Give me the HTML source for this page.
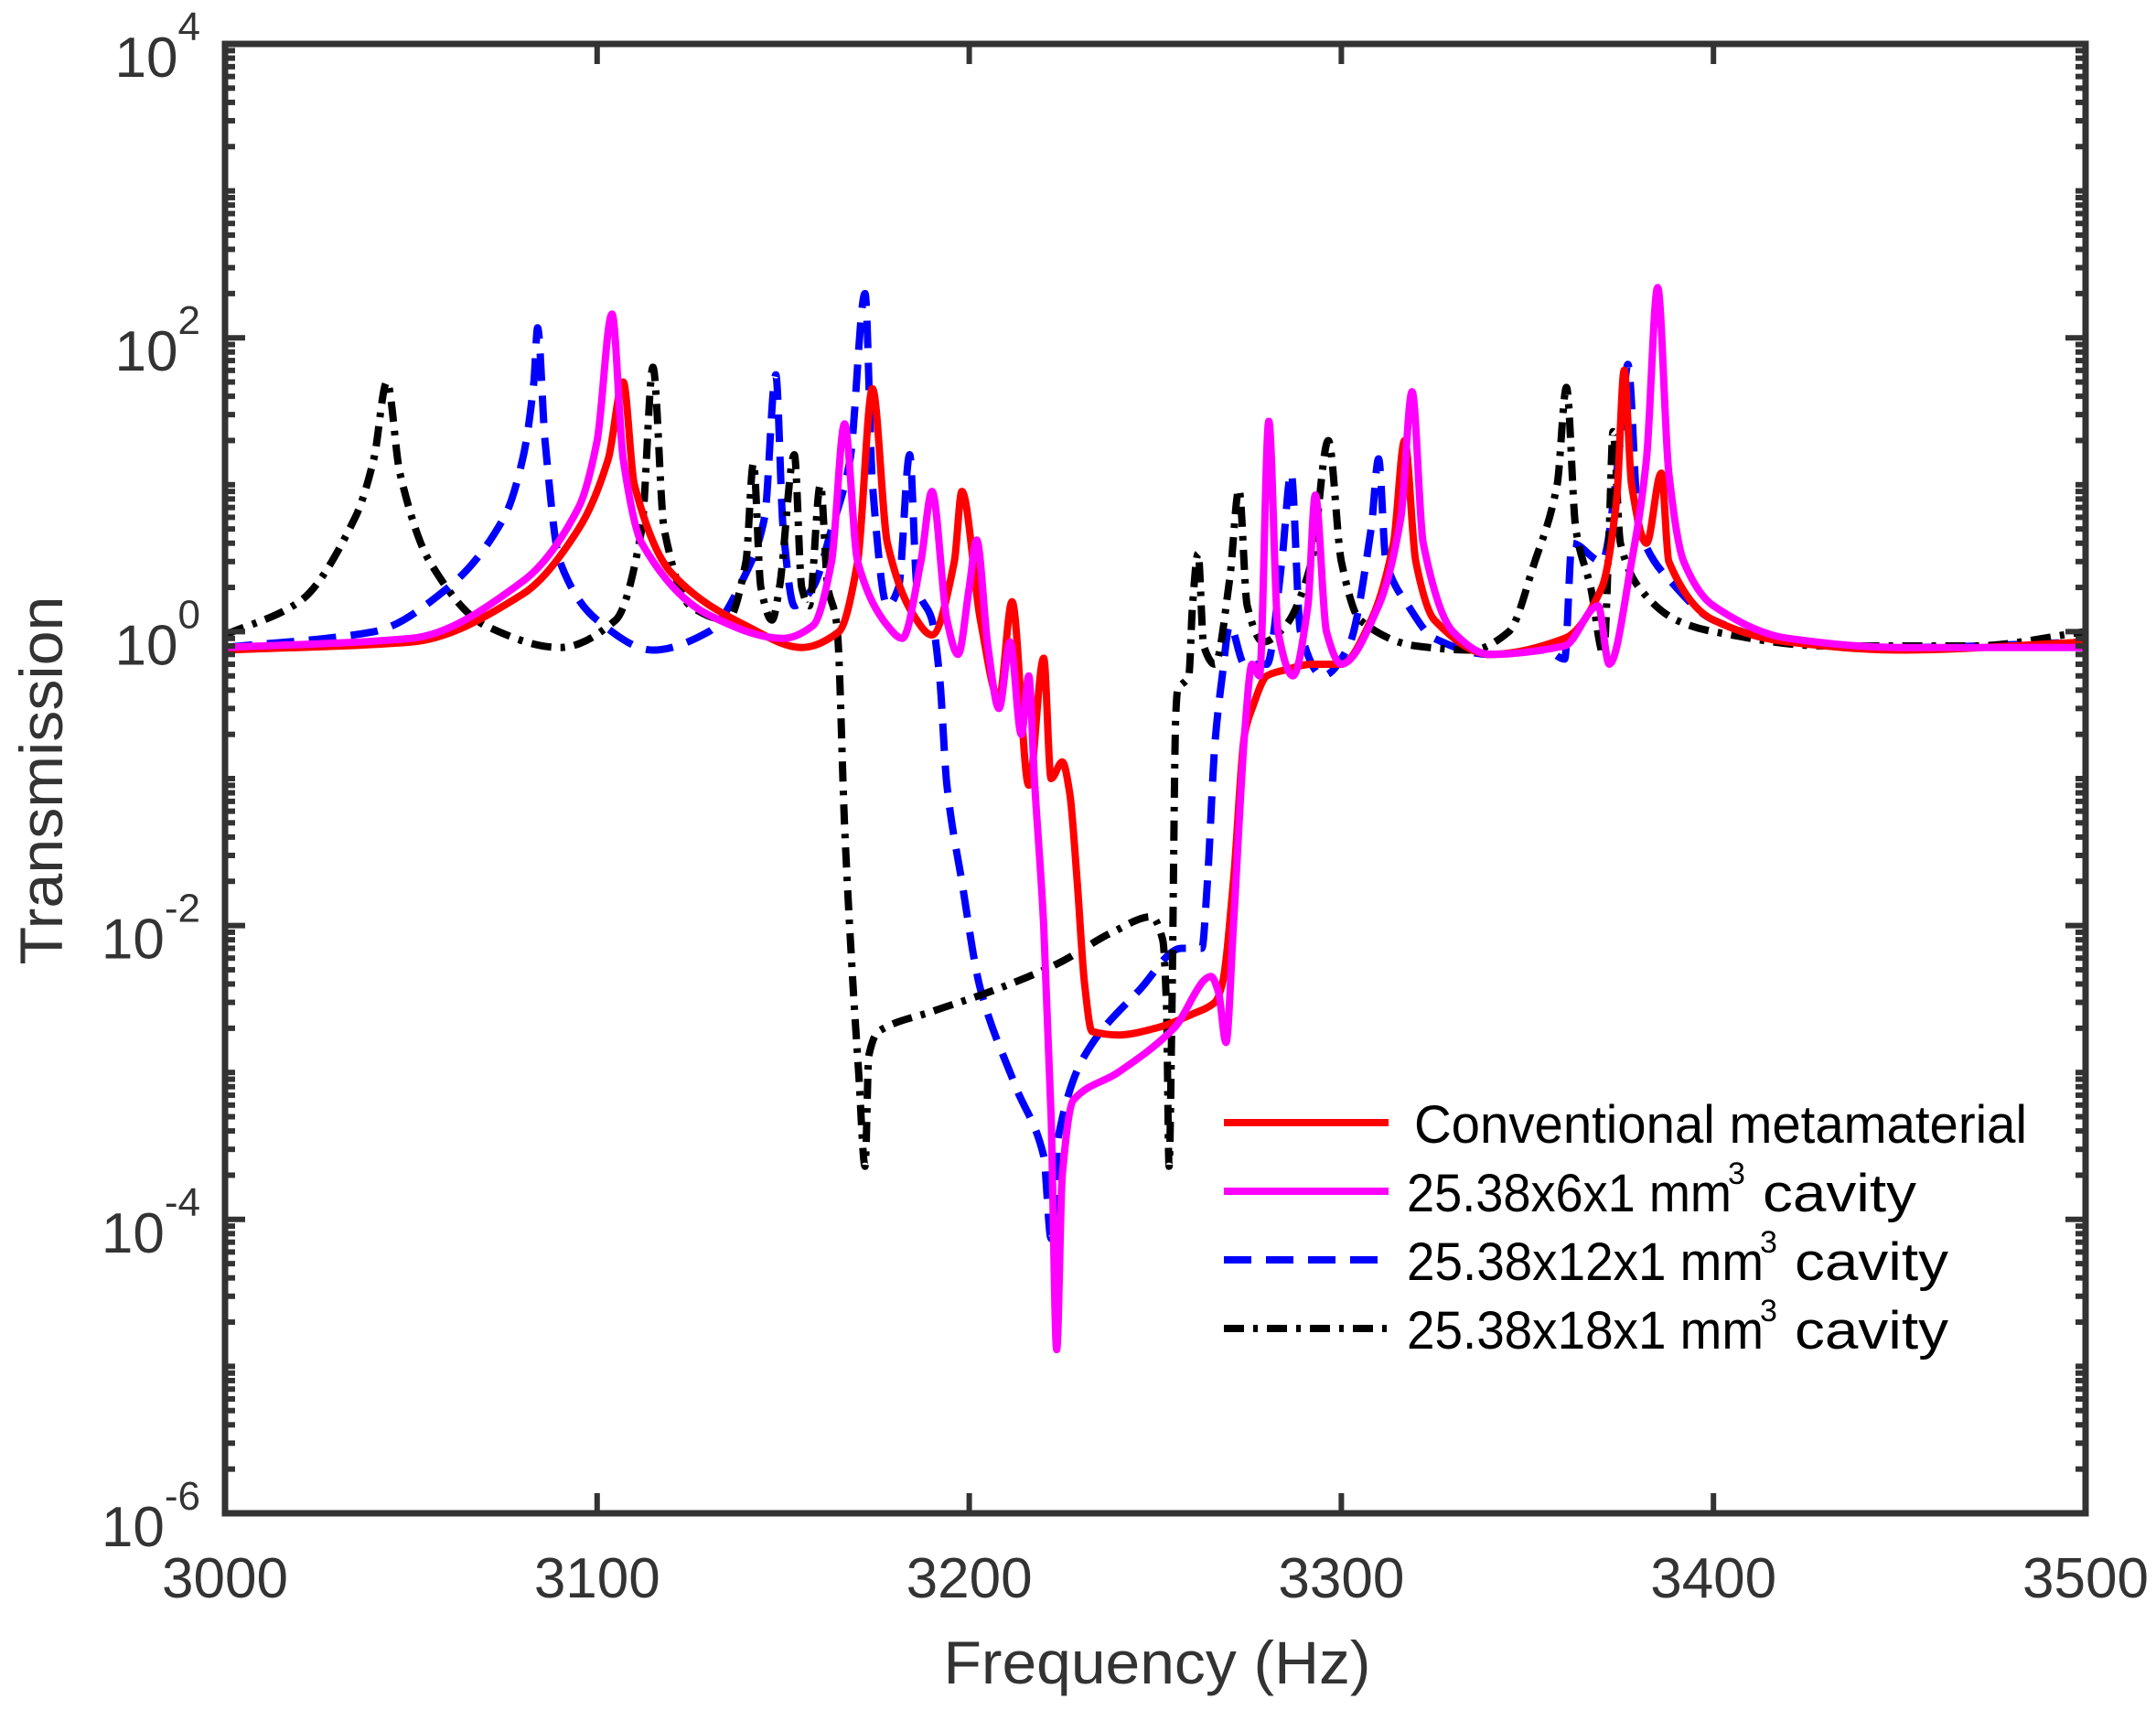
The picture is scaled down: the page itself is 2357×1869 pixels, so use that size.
<!DOCTYPE html>
<html>
<head>
<meta charset="utf-8">
<style>
html,body{margin:0;padding:0;background:#fff;}
svg{display:block;font-family:"Liberation Sans",Arial,sans-serif;}
</style>
</head>
<body>
<svg id="chart" width="2357" height="1869" viewBox="0 0 2357 1869" xmlns="http://www.w3.org/2000/svg">
  <rect x="0" y="0" width="2357" height="1869" fill="#fff"/>
  <defs><clipPath id="plotclip"><rect x="246" y="48" width="2034" height="1606"/></clipPath></defs>
  <g id="series" clip-path="url(#plotclip)"></g>
  <g id="axes"></g>
  <text x="0" y="0" transform="translate(68,853) rotate(-90)" font-size="66" fill="#333" text-anchor="middle" textLength="403" lengthAdjust="spacingAndGlyphs">Transmission</text>
  <text x="1265" y="1840" font-size="66" fill="#333" text-anchor="middle" textLength="467" lengthAdjust="spacingAndGlyphs">Frequency (Hz)</text>
  <g id="legend"></g>
</svg>
<script>
// ---- data (frequency in Hz, transmission values) ----
const xTicks = [3000, 3100, 3200, 3300, 3400, 3500];
const yTickExps = [4, 2, 0, -2, -4, -6];

const redF = [3000,3050,3080,3095,3103,3107,3110,3120,3140,3155,3165,3170,3174,3178,3185,3190,3196,3198,3203,3208,3211.5,3216,3220,3222,3225,3227,3229,3231,3233,3240,3250,3260,3266,3268,3271,3274,3276,3280,3285,3292,3300,3308,3314,3317,3320,3325,3340,3360,3370,3374,3376,3378,3382,3386,3388,3400,3420,3450,3500];
const redV = [0.75,0.85,1.8,5,15,50,10,2.5,1.1,0.78,1.0,3,45,4,1.3,0.95,3,9,1.2,0.35,1.6,0.09,0.66,0.1,0.13,0.08,0.02,0.004,0.0019,0.0018,0.002,0.0025,0.003,0.004,0.02,0.2,0.3,0.5,0.55,0.6,0.6,1.2,4,20,3,1.2,0.7,0.9,2,8,60,10,4,12,3,1.2,0.85,0.75,0.85];

const magF = [3000,3050,3080,3095,3100,3104,3107,3112,3130,3150,3158,3163,3166.5,3170,3178,3182,3187,3190,3194,3197,3200,3202,3205,3208,3211,3214,3216,3217.5,3220,3222,3223.5,3225,3228,3240,3255,3265,3267,3269,3271,3274,3276,3278,3280.5,3283,3287,3291,3293,3296,3300,3310,3316,3319,3322,3330,3340,3360,3369,3372,3378,3382,3385,3388,3392,3400,3420,3450,3500];
const magV = [0.78,0.9,2.2,7,20,145,15,4,1.3,0.9,1.1,3,26,3,1.1,0.9,3,9,1.2,0.7,2,4.2,0.8,0.3,0.85,0.2,0.5,0.1,0.01,0.0005,0.000013,0.0002,0.00065,0.001,0.002,0.0045,0.0035,0.0016,0.01,0.2,0.6,0.5,27,1,0.5,1.5,8.5,1,0.6,1.5,6,43,4,1,0.7,0.8,1.5,0.6,3,15,220,12,3,1.5,0.9,0.78,0.78];

const bluF = [3000,3040,3060,3075,3080,3083,3084,3086,3090,3100,3115,3130,3140,3145,3148,3150,3153,3158,3163,3168,3172,3174,3178,3181,3184,3186,3190,3192,3194,3198,3203,3212.5,3220,3222,3224,3231,3246,3257,3262.5,3264,3266,3268,3270,3274,3280,3284,3286.5,3289,3295,3302,3308,3310,3312,3318,3325,3340,3355,3360,3362,3370,3375,3377,3380,3390,3400,3420,3450,3500];
const bluV = [0.78,1.0,2,6,15,50,117,20,3,1.2,0.75,1.0,2.5,6,56,5,1.5,2,5,15,200,10,1.5,2,16,2,1.2,0.5,0.09,0.02,0.0037,0.0008,0.00027,0.000074,0.00037,0.0013,0.0037,0.007,0.007,0.02,0.17,0.5,1.1,0.6,0.6,3,12,1,0.5,0.8,5,15,3,1.5,0.9,0.7,0.75,0.65,4,3,20,66,5,2,1.2,0.85,0.78,0.85];

const blkF = [3000,3020,3035,3040,3043.5,3047,3055,3070,3090,3105,3112,3115,3118,3125,3135,3140,3142,3144,3147,3149,3153,3155,3157,3160,3162,3164,3164.7,3166.5,3168.4,3170.3,3172,3173,3175.6,3190,3205,3223.7,3238.5,3249,3252,3253,3253.7,3254.4,3255.5,3256,3259,3260,3261.5,3263,3266,3270,3272.5,3274.7,3279,3285,3292,3296.5,3300,3305,3320,3335,3345,3352,3358,3360.5,3363,3367,3370.5,3372,3373,3375,3380,3390,3400,3430,3470,3500];
const blkV = [0.95,1.6,6,15,50,12,3,1.1,0.78,1.2,5,63,5,1.5,1.2,3,14,2,1.2,2,16,2,1.5,10,2,1.3,0.9,0.048,0.0056,0.00098,0.00023,0.0013,0.0019,0.0026,0.0035,0.0055,0.009,0.0115,0.008,0.0029,0.00023,0.002,0.27,0.4,0.5,1.5,3.4,0.8,0.6,2.3,9.3,1.5,0.85,1.1,3,20,3,1.2,0.8,0.75,1.0,3,10,46,5,2,0.7,5,23,4,2,1.2,1.0,0.8,0.8,1.0];

// ---- axis functions ----
const X0 = 246, X1 = 2280, Y0 = 48, Y1 = 1654;
const FMIN = 3000, FMAX = 3500, EMAX = 4, EMIN = -6;
function xs(f){ return X0 + (f - FMIN) / (FMAX - FMIN) * (X1 - X0); }
function ys(v){ return Y0 + (EMAX - Math.log10(v)) / (EMAX - EMIN) * (Y1 - Y0); }

const NS = "http://www.w3.org/2000/svg";
function mk(tag, attrs){ const e = document.createElementNS(NS, tag); for (const k in attrs) e.setAttribute(k, attrs[k]); return e; }

function smoothPath(px, py){
  const n = px.length, d = [], m = new Array(n);
  for (let i = 0; i < n - 1; i++) d.push((py[i+1]-py[i])/(px[i+1]-px[i]));
  m[0] = d[0]; m[n-1] = d[n-2];
  for (let i = 1; i < n - 1; i++) {
    if (d[i-1]*d[i] <= 0) m[i] = 0;
    else m[i] = 2/(1/d[i-1]+1/d[i]);
  }
  let s = 'M' + px[0].toFixed(1) + ',' + py[0].toFixed(1);
  for (let i = 0; i < n - 1; i++) {
    const h = px[i+1]-px[i];
    s += 'C' + (px[i]+h/3).toFixed(1) + ',' + (py[i]+m[i]*h/3).toFixed(1) + ' ' +
         (px[i+1]-h/3).toFixed(1) + ',' + (py[i+1]-m[i+1]*h/3).toFixed(1) + ' ' +
         px[i+1].toFixed(1) + ',' + py[i+1].toFixed(1);
  }
  return s;
}

const seriesG = document.getElementById('series');
const axesG = document.getElementById('axes');
const legendG = document.getElementById('legend');

const seriesDefs = [
  {f: bluF, v: bluV, color: '#0000ff', w: 8, dash: '30 16', name: 'series-12mm-cavity'},
  {f: blkF, v: blkV, color: '#000000', w: 8, dash: '22 10 5 10', name: 'series-18mm-cavity'},
  {f: redF, v: redV, color: '#ff0000', w: 8, dash: '', name: 'series-conventional'},
  {f: magF, v: magV, color: '#ff00ff', w: 8, dash: '', name: 'series-6mm-cavity'}
];
seriesDefs.forEach(s => {
  const px = s.f.map(xs), py = s.v.map(ys);
  const p = mk('path', {d: smoothPath(px, py), fill: 'none', stroke: s.color, 'stroke-width': s.w, 'stroke-linejoin': 'round'});
  if (s.dash) p.setAttribute('stroke-dasharray', s.dash);
  
  
  seriesG.appendChild(p);
});

const frame = mk('rect', {x: X0, y: Y0, width: X1 - X0, height: Y1 - Y0, fill: 'none', stroke: '#333', 'stroke-width': 7});


axesG.appendChild(frame);

for (let e = EMIN; e < EMAX; e++) {
  for (let m = 1; m <= 9; m++) {
    const y = ys(m * Math.pow(10, e));
    const len = (m === 1 && e % 2 === 0) ? 22 : 11;
    const t1 = mk('line', {x1: X0, x2: X0 + len, y1: y, y2: y, stroke: '#333', 'stroke-width': 6});
    
    
    axesG.appendChild(t1);
    const t2 = mk('line', {x1: X1, x2: X1 - len, y1: y, y2: y, stroke: '#333', 'stroke-width': 6});
    
    
    axesG.appendChild(t2);
  }
}
yTickExps.forEach(e => {
  const y = ys(Math.pow(10, e));
  const t = mk('text', {x: 219, y: y + 36, 'font-size': 62, fill: '#333', 'text-anchor': 'end'});
  
  
  const base = mk('tspan', {});
  base.textContent = '10';
  const sup = mk('tspan', {dy: -40, 'font-size': 44});
  sup.textContent = String(e);
  t.appendChild(base); t.appendChild(sup);
  axesG.appendChild(t);
});
xTicks.forEach(f => {
  const x = xs(f);
  const b = mk('line', {x1: x, x2: x, y1: Y1, y2: Y1 - 22, stroke: '#333', 'stroke-width': 6});
  
  
  axesG.appendChild(b);
  const tp = mk('line', {x1: x, x2: x, y1: Y0, y2: Y0 + 22, stroke: '#333', 'stroke-width': 6});
  
  
  axesG.appendChild(tp);
  const t = mk('text', {x: x, y: 1746, 'font-size': 62, fill: '#333', 'text-anchor': 'middle'});
  
  
  t.textContent = String(f);
  axesG.appendChild(t);
});

const legendLabels = ['Conventional metamaterial', '25.38x6x1 mm', '25.38x12x1 mm', '25.38x18x1 mm'];
const legendColors = ['#ff0000', '#ff00ff', '#0000ff', '#000000'];
const legendDash = ['', '', '30 16', '22 10 5 10'];
const legendRowY = [1227, 1302, 1377, 1452];
const legendPreW = [670, 355, 390, 390];
for (let i = 0; i < 4; i++) {
  const y = legendRowY[i];
  const ln = mk('line', {x1: 1338, x2: 1518, y1: y, y2: y, stroke: legendColors[i], 'stroke-width': 8});
  if (legendDash[i]) ln.setAttribute('stroke-dasharray', legendDash[i]);
  
  
  legendG.appendChild(ln);
  const tx = i === 0 ? 1546 : 1538;
  const t = mk('text', {x: tx, y: y + 22, 'font-size': 58, fill: '#000', textLength: legendPreW[i], lengthAdjust: 'spacingAndGlyphs'});
  
  
  t.textContent = legendLabels[i];
  legendG.appendChild(t);
  if (i > 0) {
    const sx = tx + legendPreW[i];
    const s = mk('text', {x: sx - 4, y: y - 8, 'font-size': 34, fill: '#000'});
    
    
    s.textContent = '3';
    legendG.appendChild(s);
    const c = mk('text', {x: sx + 34, y: y + 22, 'font-size': 58, fill: '#000', textLength: 168, lengthAdjust: 'spacingAndGlyphs'});
    
    
    c.textContent = 'cavity';
    legendG.appendChild(c);
  }
}
</script>
</body>
</html>
